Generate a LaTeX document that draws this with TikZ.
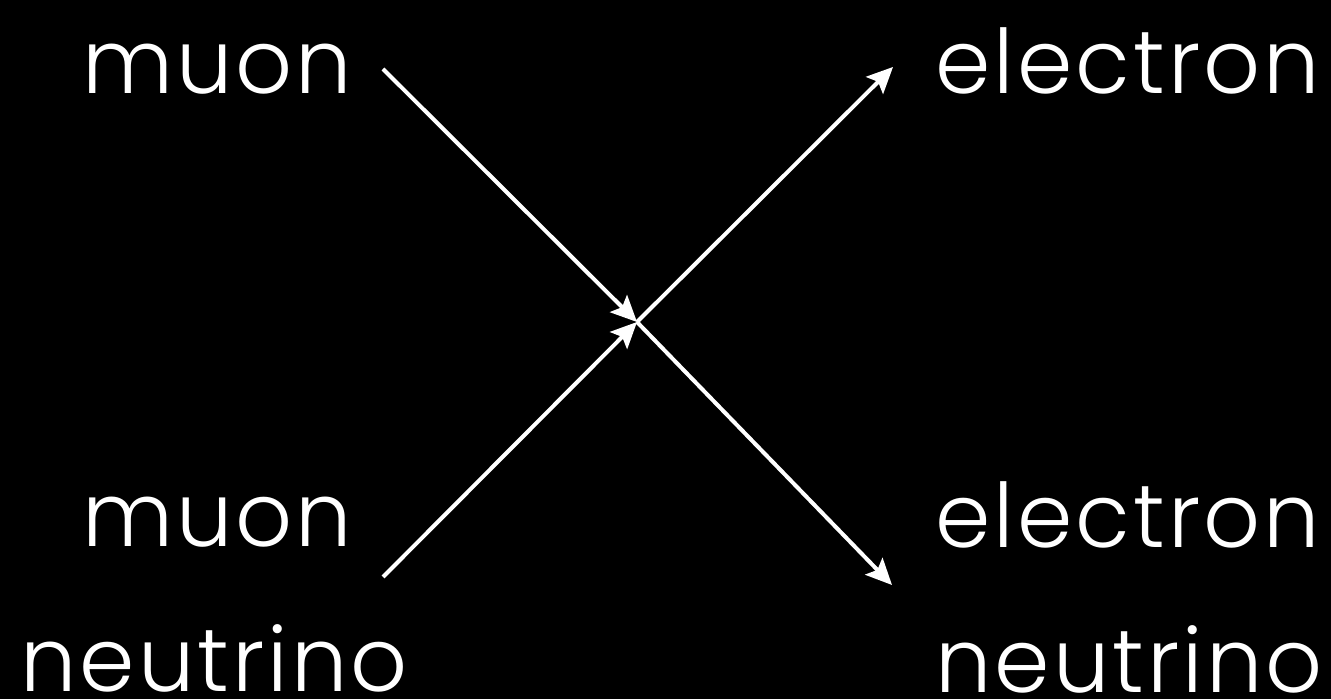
\documentclass[tikz,border=0pt]{standalone}
\usepackage{fontspec}
\setmainfont{Poppins}[UprightFont={* Light}, LetterSpace=3.5]
\usetikzlibrary{arrows.meta}
\begin{document}
\begin{tikzpicture}[x=1pt,y=1pt,
  lbl/.style={inner sep=0pt, anchor=base west, text=white, font=\fontsize{89}{89}\selectfont},
  arr/.style={draw=white, line width=4pt, -{Stealth[length=26pt,width=24pt,inset=5pt]}}]
\fill[black] (0,0) rectangle (1331,699);
\useasboundingbox (0,0) rectangle (1331,699);
\node[lbl] (mu) at (82,605) {muon};
\node[lbl] (numu1) at (82,152) {muon};
\node[lbl] (numu2) at (20,8) {neutrino};
\node[lbl] (e) at (935,605) {electron};
\node[lbl] (nue1) at (935,151) {electron};
\node[lbl] (nue2) at (935,6) {neutrino};
\coordinate (s1) at (383,630);
\coordinate (s2) at (383,122);
\coordinate (c) at (637,377);
\coordinate (t1) at (893,632);
\coordinate (t2) at (892,114);
\draw[arr] (s1) -- (c);
\draw[arr] (s2) -- (c);
\draw[arr] (c) -- (t1);
\draw[arr] (c) -- (t2);
\end{tikzpicture}
\end{document}
